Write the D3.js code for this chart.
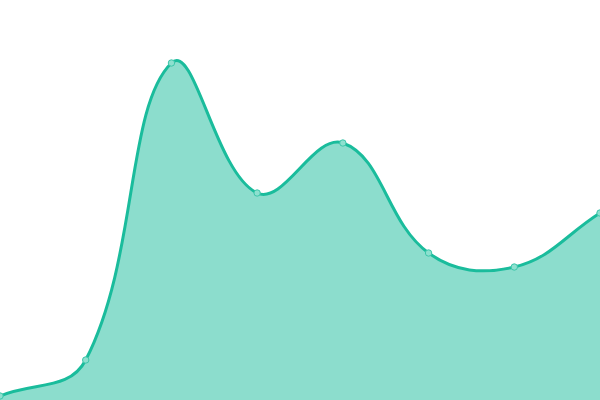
<!DOCTYPE html>
<html>
<head>
<meta charset="utf-8">
<script src="https://cdn.jsdelivr.net/npm/d3@7"></script>
<style>
  html, body { margin: 0; padding: 0; background: #fff; }
  svg { display: block; }
</style>
</head>
<body>
<div id="chart"></div>
<script>
const WIDTH = 600;
const HEIGHT = 400;

// values
const categories = [0, 1, 2, 3, 4, 5, 6, 7];
const values = [4, 40, 337, 207, 257, 147, 133, 187];

// Spline with tension, control points weighted by segment length
function TensionCurve(context, t) {
    this._context = context;
    this._t = t;
}
TensionCurve.prototype = {
    areaStart() { this._line = 0; },
    areaEnd() { this._line = NaN; },
    lineStart() { this._pts = []; },
    point(x, y) { this._pts.push([+x, +y]); },
    lineEnd() {
        const p = this._pts, n = p.length, t = this._t, ctx = this._context;
        if (n) {
            if (this._line) ctx.lineTo(p[0][0], p[0][1]);
            else ctx.moveTo(p[0][0], p[0][1]);
            const cps = p.map((cur, i) => {
                const prev = p[i - 1] || cur, next = p[i + 1] || cur;
                const d01 = Math.hypot(cur[0] - prev[0], cur[1] - prev[1]);
                const d12 = Math.hypot(next[0] - cur[0], next[1] - cur[1]);
                let s01 = d01 / (d01 + d12), s12 = d12 / (d01 + d12);
                if (isNaN(s01)) s01 = 0;
                if (isNaN(s12)) s12 = 0;
                const fa = t * s01, fb = t * s12;
                const vx = next[0] - prev[0], vy = next[1] - prev[1];
                return {
                    prev: [cur[0] - fa * vx, cur[1] - fa * vy],
                    next: [cur[0] + fb * vx, cur[1] + fb * vy]
                };
            });
            for (let i = 1; i < n; i++) {
                const a = cps[i - 1].next, b = cps[i].prev;
                ctx.bezierCurveTo(a[0], a[1], b[0], b[1], p[i][0], p[i][1]);
            }
        }
        if (this._line || (this._line !== 0 && n === 1)) ctx.closePath();
        this._line = 1 - this._line;
    }
};
const curve = context => new TensionCurve(context, 0.4);

const svg = d3.select("#chart").append("svg")
    .attr("width", WIDTH)
    .attr("height", HEIGHT);

const x = d3.scaleLinear()
    .domain([0, categories.length - 1])
    .range([0, WIDTH]);

const y = d3.scaleLinear()
    .domain([0, 400])
    .range([HEIGHT, 0]);

const data = categories.map((c, i) => ({ c, v: values[i] }));

// Area
svg.append("path")
    .datum(data)
    .attr("fill", "rgba(26,188,156,0.5)")
    .attr("d", d3.area()
        .x(d => x(d.c))
        .y0(y(0))
        .y1(d => y(d.v))
        .curve(curve));

// Line
svg.append("path")
    .datum(data)
    .attr("fill", "none")
    .attr("stroke", "#1abc9c")
    .attr("stroke-width", 3)
    .attr("d", d3.line()
        .x(d => x(d.c))
        .y(d => y(d.v))
        .curve(curve));

// Points
svg.selectAll(".pt")
    .data(data)
    .enter().append("circle")
    .attr("class", "pt")
    .attr("cx", d => x(d.c))
    .attr("cy", d => y(d.v))
    .attr("r", 3.2)
    .attr("fill", "#8de0cf")
    .attr("stroke", "#3cc6aa")
    .attr("stroke-width", 1);
</script>
</body>
</html>
